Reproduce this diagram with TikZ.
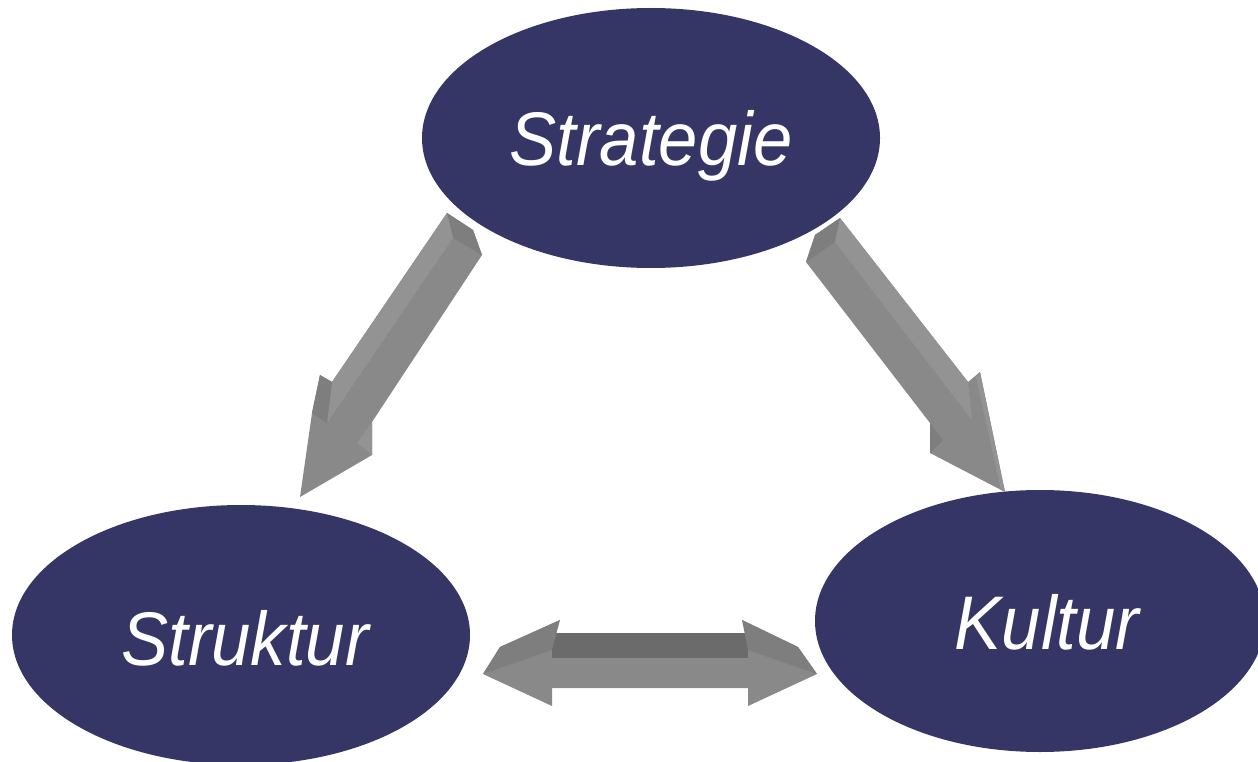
\documentclass[tikz,border=0pt]{standalone}
\usepackage{fontspec}
\setmainfont{Liberation Sans}
\usetikzlibrary{shapes.geometric}
\definecolor{navy}{RGB}{53,53,102}
\definecolor{arrfront}{RGB}{137,137,137}
\definecolor{arrtop}{RGB}{126,126,126}
\definecolor{arrside}{RGB}{147,147,147}
\definecolor{arrdark}{RGB}{107,107,107}
\newcommand{\bubblelabel}[1]{\scalebox{0.93}[1]{#1}}
\tikzset{
  bubble/.style={ellipse, fill=navy, draw=none, inner sep=0pt},
  bubbletext/.style={text=white, font=\fontsize{76}{80}\selectfont\itshape, inner sep=0pt, anchor=base},
  front/.style={fill=arrfront, draw=none},
  topface/.style={fill=arrtop, draw=none},
  sideface/.style={fill=arrside, draw=none},
  darkface/.style={fill=arrdark, draw=none}
}
\begin{document}
\begin{tikzpicture}[x=1pt,y=-1pt]
\useasboundingbox (0,0) rectangle (1258,762);
% ellipses
\node[bubble, minimum width=458pt, minimum height=260pt] (strat) at (651,138) {};
\node[bubble, minimum width=458pt, minimum height=260pt] (strukt) at (241,635) {};
\node[bubble, minimum width=450pt, minimum height=262pt] (kult) at (1040,621) {};
\node[bubbletext] (stratT) at (651,166) {\bubblelabel{Strategie}};
\node[bubbletext] (struktT) at (245,665) {\bubblelabel{Struktur}};
\node[bubbletext] (kultT) at (1047,649) {\bubblelabel{Kultur}};
% left diagonal arrow (Strategie -> Struktur)
\fill[front] (447,213) -- (473,230) -- (482,255) -- (372,422) -- (372,455) -- (300,497) -- (312,413) -- (320,375) -- (332,382) -- cycle;
\fill[topface] (447,213) -- (473,230) -- (482,255) -- (453,238) -- cycle;
\fill[sideface] (447,213) -- (453,238) -- (327,423) -- (332,382) -- cycle;
\fill[sideface] (372,422) -- (372,455) -- (357,443) -- cycle;
\fill[topface] (320,375) -- (332,382) -- (327,423) -- (312,413) -- cycle;
% right diagonal arrow (Strategie -> Kultur)
\fill[front] (840,218) -- (815,235) -- (806,262) -- (930,423) -- (930,453) -- (1005,492) -- (980,372) -- (968,382) -- cycle;
\fill[topface] (840,218) -- (815,235) -- (806,262) -- (835,242) -- cycle;
\fill[sideface] (840,218) -- (835,242) -- (972,420) -- (968,382) -- cycle;
\fill[topface] (930,423) -- (943,440) -- (930,453) -- cycle;
\fill[sideface] (980,372) -- (1005,492) -- (1001,490) -- (976,377) -- cycle;
% horizontal double arrow (Struktur <-> Kultur)
\fill[front] (483,674) -- (500,647) -- (560,620) -- (552,633) -- (748,633) -- (742,620) -- (798,647) -- (817,674) -- (748,706) -- (748,688) -- (552,688) -- (552,706) -- cycle;
\fill[darkface] (552,633) -- (748,633) -- (748,658) -- (552,658) -- cycle;
\fill[topface] (483,674) -- (500,647) -- (560,620) -- (552,650) -- cycle;
\fill[topface] (817,674) -- (798,647) -- (742,620) -- (748,650) -- cycle;
\end{tikzpicture}
\end{document}
